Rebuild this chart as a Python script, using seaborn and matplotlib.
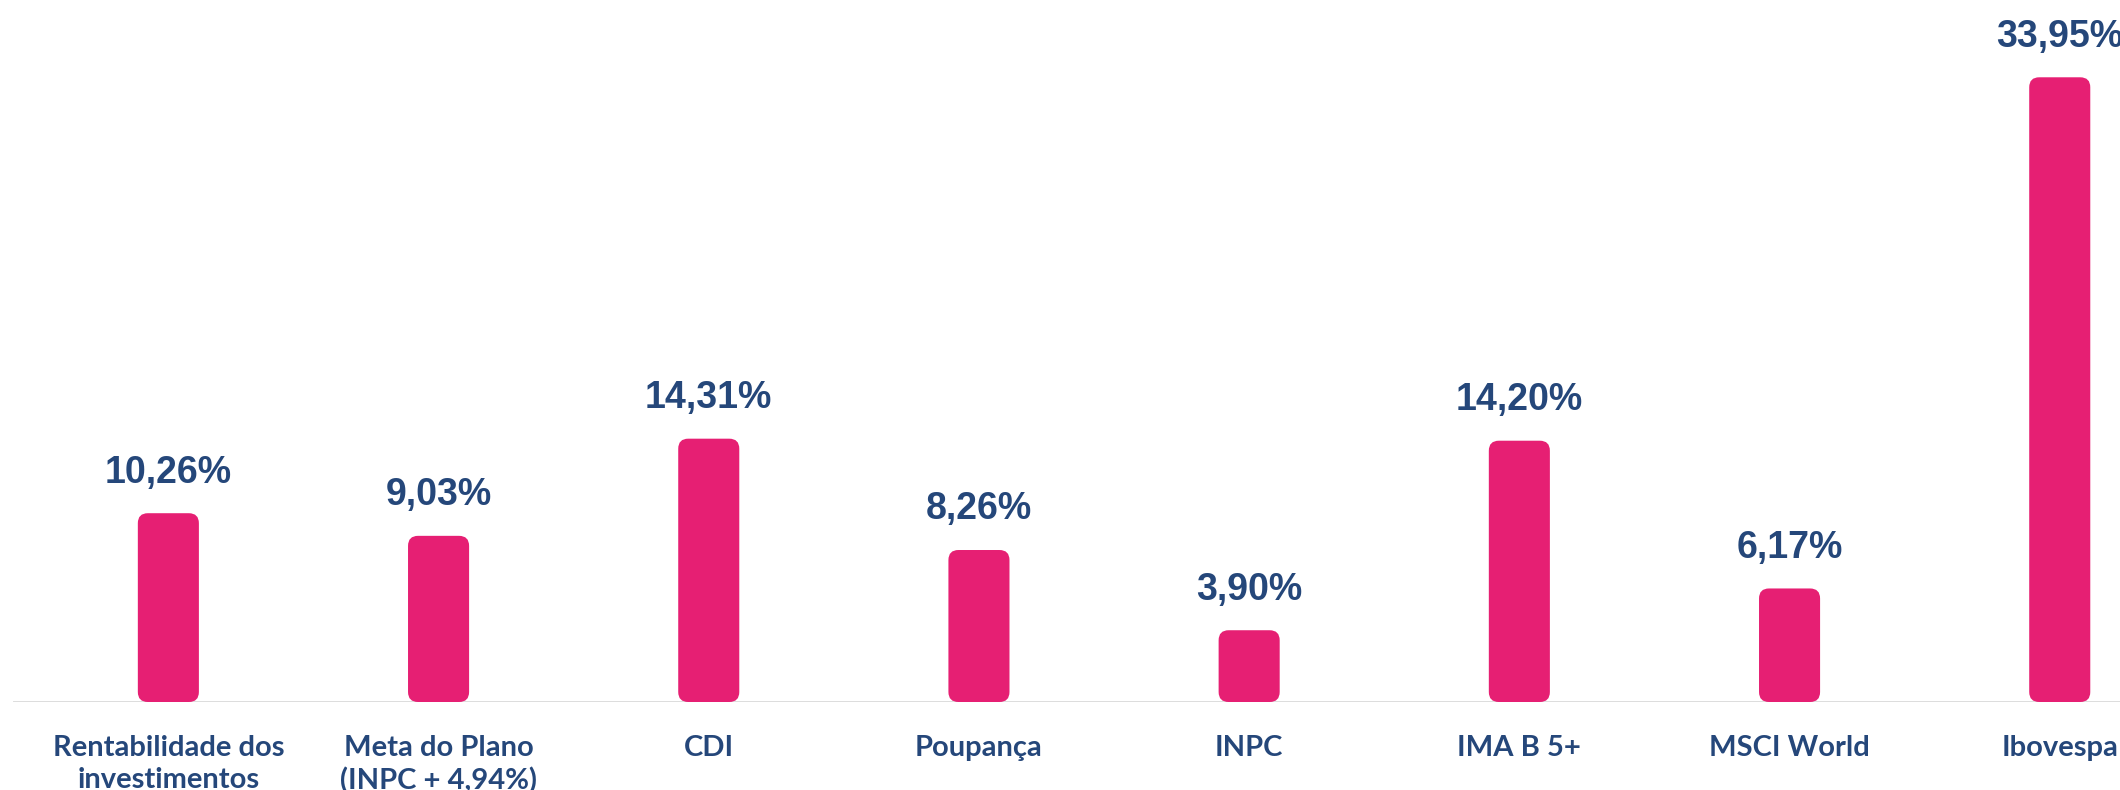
import numpy as np
import matplotlib
matplotlib.use("Agg")
import matplotlib.pyplot as plt
import seaborn as sns
from matplotlib.patches import FancyBboxPatch

# dados
categorias = ["Rentabilidade dos\ninvestimentos", "Meta do Plano\n(INPC + 4,94%)", "CDI",
              "Poupança", "INPC", "IMA B 5+", "MSCI World", "Ibovespa"]
valores = [10.26, 9.03, 14.31, 8.26, 3.90, 14.20, 6.17, 33.95]

cor_barra = "#e61f73"
cor_texto = "#25477a"

sns.set_theme(style="white")
plt.rcParams['font.family'] = ['Lato', 'DejaVu Sans']

fig = plt.figure(figsize=(21.2, 7.9), dpi=100)
ax = fig.add_axes([13 / 2120, 88 / 790, 2107 / 2120, 702 / 790])

sns.barplot(x=categorias, y=valores, color=cor_barra, width=0.226, saturation=1, ax=ax)

ax.set_xlim(-0.575, 7.223)
ax.set_ylim(0, 38.15)

# barras com cantos arredondados
px_x = 2107 / (7.223 + 0.575)
px_y = 702 / 38.15
raio = 10 / px_x
for p in list(ax.patches):
    x0, y0 = p.get_x(), p.get_y()
    w, h = p.get_width(), p.get_height()
    p.remove()
    ax.add_patch(FancyBboxPatch((x0, y0), w, h,
                                boxstyle=f"round,pad=0,rounding_size={raio}",
                                mutation_aspect=px_x / px_y,
                                facecolor=cor_barra, edgecolor="none", zorder=3))

# rótulos de valor
for i, v in enumerate(valores):
    ax.annotate(f"{v:.2f}%".replace(".", ","), xy=(i, v), xytext=(0, 22),
                textcoords="offset points", ha="center", va="baseline",
                fontsize=27, fontweight="bold", color=cor_texto,
                family=["Liberation Sans", "DejaVu Sans"], annotation_clip=False)

ax.axhline(0, color="#d9d9d9", lw=2, zorder=2)
sns.despine(ax=ax, left=True, bottom=True, top=True, right=True)
ax.set_yticks([])
ax.set_xlabel("")
ax.set_ylabel("")
ax.tick_params(axis="x", length=0, pad=24)
for t in ax.get_xticklabels():
    t.set_fontsize(21)
    t.set_fontweight("bold")
    t.set_color(cor_texto)
    t.set_linespacing(1.25)

fig.savefig("out.png", dpi=100)
